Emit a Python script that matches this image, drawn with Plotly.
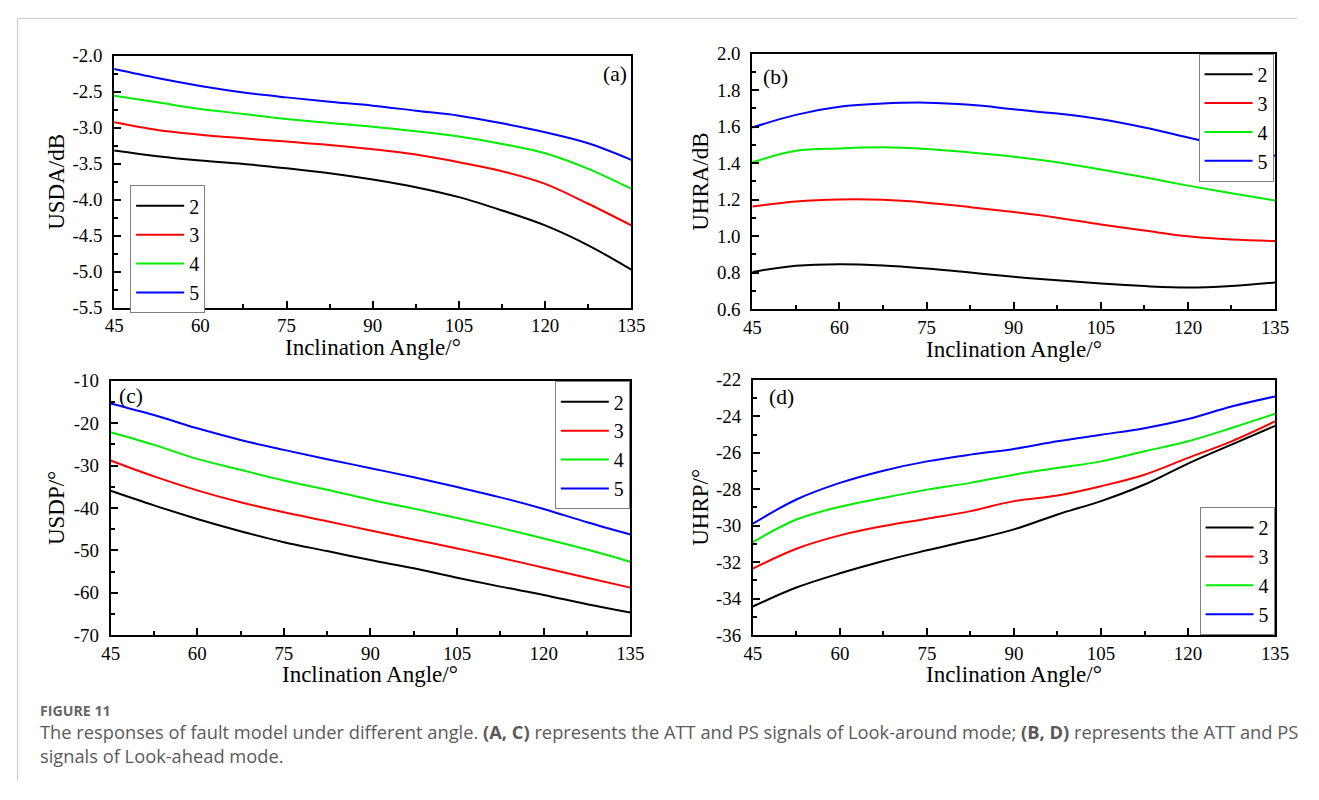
import plotly.graph_objects as go

# Figure size inside the page (page has the browser's default 8px body margin)
W, H = 1303, 784
# Measured mapping from figure pixels to the photographed picture: pic = S * fig + OFF
SX, OX = 0.982, 16.9
SY, OY = 0.976, 17.1
FS = 1 / 0.979  # font compensation

angles = [45, 52.5, 60, 67.5, 75, 82.5, 90, 97.5, 105, 112.5, 120, 127.5, 135]
series_names = ["2", "3", "4", "5"]
series_colors = ["#000000", "#ff0000", "#00ee00", "#0000ff"]

# (a) USDA/dB
usda_2 = [-3.318, -3.396, -3.456, -3.503, -3.563, -3.632, -3.720, -3.826, -3.965, -4.150, -4.358, -4.635, -4.973]
usda_3 = [-2.925, -3.031, -3.096, -3.147, -3.193, -3.239, -3.299, -3.373, -3.479, -3.604, -3.780, -4.057, -4.358]
usda_4 = [-2.555, -2.647, -2.740, -2.809, -2.878, -2.934, -2.985, -3.049, -3.123, -3.225, -3.355, -3.572, -3.849]
usda_5 = [-2.185, -2.310, -2.420, -2.510, -2.578, -2.638, -2.693, -2.763, -2.832, -2.939, -3.063, -3.216, -3.447]

# (b) UHRA/dB
uhra_2 = [0.804, 0.837, 0.846, 0.839, 0.822, 0.800, 0.777, 0.758, 0.740, 0.726, 0.718, 0.727, 0.746]
uhra_3 = [1.163, 1.190, 1.201, 1.199, 1.183, 1.159, 1.132, 1.101, 1.064, 1.031, 0.999, 0.981, 0.973]
uhra_4 = [1.405, 1.468, 1.481, 1.487, 1.478, 1.459, 1.436, 1.405, 1.365, 1.323, 1.277, 1.235, 1.195]
uhra_5 = [1.596, 1.665, 1.709, 1.727, 1.732, 1.720, 1.696, 1.672, 1.641, 1.596, 1.541, 1.487, 1.441]

# (c) USDP/°
usdp_2 = [-35.92, -39.37, -42.58, -45.47, -48.06, -50.17, -52.29, -54.24, -56.44, -58.55, -60.51, -62.70, -64.66]
usdp_3 = [-28.79, -32.55, -35.84, -38.66, -41.01, -43.12, -45.32, -47.43, -49.55, -51.74, -54.09, -56.44, -58.79]
usdp_4 = [-22.14, -25.11, -28.40, -30.99, -33.49, -35.69, -38.03, -40.15, -42.34, -44.69, -47.20, -49.78, -52.68]
usdp_5 = [-15.33, -18.07, -21.20, -23.94, -26.29, -28.48, -30.60, -32.75, -35.06, -37.49, -40.23, -43.36, -46.26]

# (d) UHRP/°
uhrp_2 = [-34.43, -33.39, -32.61, -31.93, -31.35, -30.80, -30.20, -29.38, -28.65, -27.74, -26.59, -25.55, -24.52]
uhrp_3 = [-32.35, -31.26, -30.53, -30.02, -29.62, -29.20, -28.65, -28.34, -27.83, -27.20, -26.28, -25.37, -24.28]
uhrp_4 = [-30.90, -29.66, -28.96, -28.47, -28.02, -27.65, -27.20, -26.83, -26.47, -25.92, -25.37, -24.64, -23.86]
uhrp_5 = [-29.89, -28.56, -27.65, -26.98, -26.47, -26.10, -25.79, -25.37, -25.01, -24.65, -24.15, -23.46, -22.91]

x_ticks = [45, 60, 75, 90, 105, 120, 135]
x_ticktext = ["45", "60", "75", "90", "105", "120", "135"]

a_ticks = [-2.0, -2.5, -3.0, -3.5, -4.0, -4.5, -5.0, -5.5]
a_ticktext = ["-2.0", "-2.5", "-3.0", "-3.5", "-4.0", "-4.5", "-5.0", "-5.5"]
b_ticks = [0.6, 0.8, 1.0, 1.2, 1.4, 1.6, 1.8, 2.0]
b_ticktext = ["0.6", "0.8", "1.0", "1.2", "1.4", "1.6", "1.8", "2.0"]
c_ticks = [-10, -20, -30, -40, -50, -60, -70]
c_ticktext = ["-10", "-20", "-30", "-40", "-50", "-60", "-70"]
d_ticks = [-22, -24, -26, -28, -30, -32, -34, -36]
d_ticktext = ["-22", "-24", "-26", "-28", "-30", "-32", "-34", "-36"]

SERIF = "Liberation Serif"


def px_x(ref):
    return ((ref - OX) / SX) / W


def px_y(ref):
    return 1 - ((ref - OY) / SY) / H


def fs(s):
    return round(s * FS, 1)


panels = [
    dict(ax="", data=[usda_2, usda_3, usda_4, usda_5], xd=(114, 631), yd=(55, 307.5),
         yt=a_ticks, ytt=a_ticktext, yr=[-5.5, -2.0], ymin=0.25, title="USDA/dB", leg="legend",
         label="(a)", lab_xy=(615, 73), ytitle_x=57, xtitle_y=348),
    dict(ax="2", data=[uhra_2, uhra_3, uhra_4, uhra_5], xd=(752, 1274.5), yd=(53, 309),
         yt=b_ticks, ytt=b_ticktext, yr=[0.6, 2.0], ymin=0.1, title="UHRA/dB", leg="legend2",
         label="(b)", lab_xy=(775, 76), ytitle_x=700, xtitle_y=350),
    dict(ax="3", data=[usdp_2, usdp_3, usdp_4, usdp_5], xd=(110.5, 630), yd=(381, 636),
         yt=c_ticks, ytt=c_ticktext, yr=[-70, -10], ymin=5, title="USDP/°", leg="legend3",
         label="(c)", lab_xy=(131, 396), ytitle_x=57, xtitle_y=675),
    dict(ax="4", data=[uhrp_2, uhrp_3, uhrp_4, uhrp_5], xd=(752.5, 1274.5), yd=(380, 636),
         yt=d_ticks, ytt=d_ticktext, yr=[-36, -22], ymin=1, title="UHRP/°", leg="legend4",
         label="(d)", lab_xy=(781, 397), ytitle_x=700, xtitle_y=675),
]

fig = go.Figure()
annotations = []
layout_axes = {}

for p in panels:
    ax = p["ax"]
    for name, color, vals in zip(series_names, series_colors, p["data"]):
        fig.add_trace(go.Scatter(
            x=angles, y=vals, name=name, mode="lines",
            line=dict(color=color, width=2, shape="spline", smoothing=1.0),
            xaxis="x" + ax, yaxis="y" + ax, legend=p["leg"],
        ))
    axis_common = dict(
        showgrid=False, zeroline=False, showline=True, linecolor="black", linewidth=2,
        mirror=True, ticks="inside", ticklen=7, tickwidth=2, tickcolor="black",
        tickfont=dict(family=SERIF, size=fs(18.5), color="black"),
    )
    layout_axes["xaxis" + ax] = dict(
        axis_common, domain=[px_x(p["xd"][0]), px_x(p["xd"][1])], range=[45, 135],
        tickvals=x_ticks, ticktext=x_ticktext, anchor="y" + ax, ticklabelstandoff=0,
        minor=dict(ticks="inside", ticklen=4, tickwidth=2, tickcolor="black", dtick=7.5, tick0=45),
    )
    layout_axes["yaxis" + ax] = dict(
        axis_common, domain=[px_y(p["yd"][1]), px_y(p["yd"][0])], range=p["yr"],
        tickvals=p["yt"], ticktext=p["ytt"], anchor="x" + ax, ticklabelstandoff=6,
        minor=dict(ticks="inside", ticklen=4, tickwidth=2, tickcolor="black", dtick=p["ymin"], tick0=p["yr"][0]),
    )
    cx = (p["xd"][0] + p["xd"][1]) / 2
    annotations.append(dict(
        text="Inclination Angle/°", xref="paper", yref="paper", x=px_x(cx), y=px_y(p["xtitle_y"]),
        xanchor="center", yanchor="middle", showarrow=False,
        font=dict(family=SERIF, size=fs(22.5), color="black"),
    ))
    cy = (p["yd"][0] + p["yd"][1]) / 2
    annotations.append(dict(
        text=p["title"], xref="paper", yref="paper", x=px_x(p["ytitle_x"]), y=px_y(cy),
        xanchor="center", yanchor="middle", showarrow=False, textangle=-90,
        font=dict(family=SERIF, size=fs(22.5), color="black"),
    ))
    annotations.append(dict(
        text=p["label"], xref="paper", yref="paper", x=px_x(p["lab_xy"][0]), y=px_y(p["lab_xy"][1]),
        xanchor="center", yanchor="middle", showarrow=False,
        font=dict(family=SERIF, size=fs(21), color="black"),
    ))

legend_common = dict(
    bgcolor="white", bordercolor="#808080", borderwidth=1, itemwidth=48,
    font=dict(family=SERIF, size=fs(19.5), color="black"), tracegroupgap=0,
)

# caption
CAP = "Open Sans"
annotations.append(dict(
    text="<b>FIGURE 11</b>", xref="paper", yref="paper", x=px_x(38), y=px_y(712),
    xanchor="left", yanchor="middle", showarrow=False,
    font=dict(family=CAP, size=14.2, color="#666666"),
))
annotations.append(dict(
    text="The responses of fault model under different angle. <b>(A, C)</b> represents the ATT and PS signals of Look-around mode; <b>(B, D)</b> represents the ATT and PS",
    xref="paper", yref="paper", x=px_x(38), y=px_y(733),
    xanchor="left", yanchor="middle", showarrow=False,
    font=dict(family=CAP, size=18.3, color="#5a5a5a"),
))
annotations.append(dict(
    text="signals of Look-ahead mode.",
    xref="paper", yref="paper", x=px_x(38), y=px_y(757),
    xanchor="left", yanchor="middle", showarrow=False,
    font=dict(family=CAP, size=18.3, color="#5a5a5a"),
))

shapes = [
    dict(type="line", xref="paper", yref="paper", x0=0, x1=1, y0=0.9994, y1=0.9994,
         line=dict(color="#cccccc", width=1)),
    dict(type="line", xref="paper", yref="paper", x0=0.0004, x1=0.0004, y0=0.9994, y1=0,
         line=dict(color="#cccccc", width=1)),
]

fig.update_layout(
    width=W, height=H, margin=dict(l=0, r=0, t=0, b=0),
    paper_bgcolor="white", plot_bgcolor="white", showlegend=True,
    annotations=annotations, shapes=shapes,
    legend=dict(legend_common, x=px_x(130), y=px_y(185), xanchor="left", yanchor="top"),
    legend2=dict(legend_common, x=px_x(1273), y=px_y(53), xanchor="right", yanchor="top"),
    legend3=dict(legend_common, x=px_x(629.5), y=px_y(381.5), xanchor="right", yanchor="top"),
    legend4=dict(legend_common, x=px_x(1274), y=px_y(636), xanchor="right", yanchor="bottom"),
    **layout_axes,
)

fig.write_html("out.html")
